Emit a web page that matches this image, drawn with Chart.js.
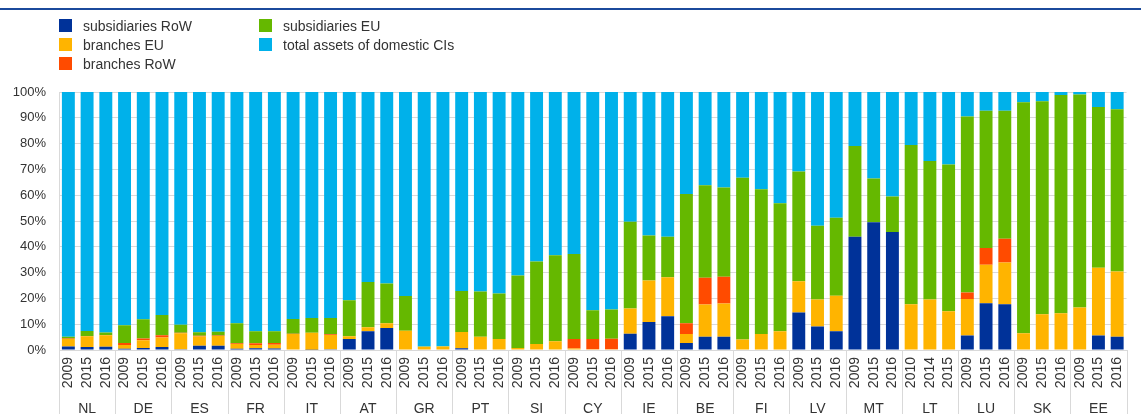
<!DOCTYPE html>
<html>
<head>
<meta charset="utf-8">
<script src="https://cdn.jsdelivr.net/npm/chart.js@4.4.1/dist/chart.umd.min.js"></script>
<style>
  html, body { margin: 0; padding: 0; background: #fff; }
  body { width: 1141px; height: 414px; position: relative; overflow: hidden; font-family: "Liberation Sans", Arial, sans-serif; }
  #topline { position: absolute; left: 0; top: 8px; width: 1141px; height: 2px; background: #1B4A9C; }
  #wrap { position: absolute; left: 0; top: 0; width: 1141px; height: 414px; }
  .leg { position: absolute; font-size: 14px; color: #333; line-height: 16px; white-space: nowrap; }
  .leg span.sw { position: absolute; left: 0; top: 1px; width: 13px; height: 13px; }
  .leg span.tx { position: absolute; left: 24px; top: 0; }
</style>
</head>
<body>
<div id="topline"></div>
<div id="wrap"><canvas id="c" width="1141" height="414"></canvas></div>
<div id="legend"></div>
<script>
const countries = ['NL','DE','ES','FR','IT','AT','GR','PT','SI','CY','IE','BE','FI','LV','MT','LT','LU','SK','EE'];
const years = [
  '2009','2015','2016', '2009','2015','2016', '2009','2015','2016', '2009','2015','2016',
  '2009','2015','2016', '2009','2015','2016', '2009','2015','2016', '2009','2015','2016',
  '2009','2015','2016', '2009','2015','2016', '2009','2015','2016', '2009','2015','2016',
  '2009','2015','2016', '2009','2015','2016', '2009','2015','2016', '2010','2014','2015',
  '2009','2015','2016', '2009','2015','2016', '2009','2015','2016'
];
const subsidiariesRoW = [
  1.4,1.2,1.3, 0.5,0.8,1.2, 0.3,1.6,1.6, 0.5,0.7,0.6, 0.2,0.1,0.3, 4.3,7.3,8.5,
  0,0,0, 0.7,0,0, 0,0,0, 0,0,0, 6.3,10.9,13.1, 2.7,5.1,5.1, 0,0,0, 14.5,9.1,7.3,
  43.9,49.5,45.7, 0,0,0, 5.6,18.1,17.7, 0,0,0, 0,5.6,5.1
];
const branchesEU = [
  2.9,4.1,4.4, 1.4,3.0,3.6, 6.2,3.6,3.8, 1.8,1.2,1.4, 6.0,6.6,5.5, 1.0,1.5,1.9,
  7.5,1.3,1.4, 6.3,5.1,4.3, 0.8,2.3,3.4, 0.6,0.3,0.3, 9.8,16.0,15.1, 3.5,12.5,12.9,
  4.1,6.2,7.3, 12.1,10.5,13.7, 0,0,0, 17.7,19.6,15.0, 14.2,14.9,16.2, 6.5,13.9,14.2,
  16.5,26.3,25.3
];
const branchesRoW = [
  0.2,0.1,0.1, 0.8,0.7,0.9, 0.2,0.3,0.2, 0.3,0.7,0.7, 0.1,0,0.3, 0,0,0,
  0,0,0, 0,0,0, 0,0,0, 3.7,4.0,4.1, 0,0,0, 4.2,10.4,10.4, 0,0,0, 0,0,0,
  0,0,0, 0,0,0, 2.5,6.5,9.2, 0,0,0, 0,0,0
];
const subsidiariesEU = [
  0.6,2.0,1.0, 6.9,7.4,7.9, 3.1,1.4,1.5, 7.8,4.7,4.6, 5.7,5.7,6.3, 14.0,17.6,15.4,
  13.4,0.1,0.1, 15.9,17.6,17.6, 28.1,32.0,33.3, 32.9,11.1,11.3, 33.6,17.5,15.7, 50.1,35.9,34.6,
  62.7,56.1,49.6, 42.6,28.6,30.3, 35.2,17.0,13.8, 61.8,53.7,56.9, 68.2,53.2,49.6, 89.5,82.5,84.6,
  82.5,62.3,62.9
];
const domesticCIs = [
  94.9,92.6,93.2, 90.4,88.1,86.4, 90.2,93.1,92.9, 89.6,92.7,92.7, 88.0,87.6,87.6, 80.7,73.6,74.2,
  79.1,98.6,98.5, 77.1,77.3,78.1, 71.1,65.7,63.3, 62.8,84.6,84.3, 50.3,55.6,56.1, 39.5,36.1,37.0,
  33.2,37.7,43.1, 30.8,51.8,48.7, 20.9,33.5,40.5, 20.5,26.7,28.1, 9.5,7.3,7.3, 4.0,3.6,1.2,
  1.0,5.8,6.7
];
const yTicks = [0,10,20,30,40,50,60,70,80,90,100];

const seriesNames = ['subsidiaries RoW','branches EU','branches RoW','subsidiaries EU','total assets of domestic CIs'];
const seriesColors = ['#003299','#FFB400','#FF4B00','#65B800','#00B1EA'];
const seriesData = [subsidiariesRoW, branchesEU, branchesRoW, subsidiariesEU, domesticCIs];

// HTML legend (two columns)
const legendPos = [[59,18],[59,37],[59,56],[259,18],[259,37]];
const legendOrder = [0,1,2,3,4];
const legEl = document.getElementById('legend');
legendOrder.forEach((si, i) => {
  const d = document.createElement('div');
  d.className = 'leg';
  d.style.left = legendPos[i][0] + 'px';
  d.style.top = legendPos[i][1] + 'px';
  d.innerHTML = '<span class="sw" style="background:' + seriesColors[si] + '"></span><span class="tx">' + seriesNames[si] + '</span>';
  legEl.appendChild(d);
});

const FONT = '"Liberation Sans", Arial, sans-serif';
const GRID = '#d9d9d9';
const TXT = '#333333';

const groupPlugin = {
  id: 'groups',
  afterDraw(chart) {
    const ctx = chart.ctx;
    const xs = chart.scales.x;
    const area = chart.chartArea;
    const n = years.length;
    ctx.save();
    ctx.strokeStyle = GRID;
    ctx.lineWidth = 1;
    for (let k = 0; k <= countries.length; k++) {
      let x;
      if (k === 0) x = area.left;
      else if (k === countries.length) x = area.right;
      else x = (xs.getPixelForValue(3 * k - 1) + xs.getPixelForValue(3 * k)) / 2;
      x = Math.round(x) + 0.5;
      ctx.beginPath();
      ctx.moveTo(x, k === 0 ? area.top : area.bottom);
      ctx.lineTo(x, chart.height);
      ctx.stroke();
    }
    ctx.fillStyle = TXT;
    ctx.font = '14px ' + FONT;
    ctx.textAlign = 'center';
    ctx.textBaseline = 'alphabetic';
    countries.forEach((c, k) => {
      const x = (xs.getPixelForValue(3 * k) + xs.getPixelForValue(3 * k + 2)) / 2;
      ctx.fillText(c, x, 413);
    });
    ctx.restore();
  }
};

new Chart(document.getElementById('c'), {
  type: 'bar',
  data: {
    labels: years,
    datasets: seriesData.map((d, i) => ({
      label: seriesNames[i],
      data: d,
      backgroundColor: seriesColors[i],
      borderWidth: 0,
      barPercentage: 0.69,
      categoryPercentage: 1.0
    }))
  },
  options: {
    responsive: false,
    animation: false,
    devicePixelRatio: 1,
    layout: { padding: { top: 92, right: 4, bottom: 0, left: 0 } },
    plugins: { legend: { display: false }, tooltip: { enabled: false } },
    scales: {
      x: {
        stacked: true,
        grid: { display: false, drawTicks: false },
        border: { display: true, color: GRID },
        ticks: {
          autoSkip: false, minRotation: 90, maxRotation: 90,
          color: TXT, font: { size: 14, family: FONT }, padding: 7
        },
        afterFit(s) { s.height = 64; }
      },
      y: {
        stacked: true,
        min: 0, max: 100,
        afterBuildTicks(s) { s.ticks = yTicks.map(v => ({ value: v })); },
        grid: { color: GRID, drawTicks: false },
        border: { display: false },
        ticks: {
          color: TXT, font: { size: 13, family: FONT }, padding: 13,
          callback: v => v + '%'
        },
        afterFit(s) { s.width = 59; }
      }
    }
  },
  plugins: [groupPlugin]
});
</script>
</body>
</html>
